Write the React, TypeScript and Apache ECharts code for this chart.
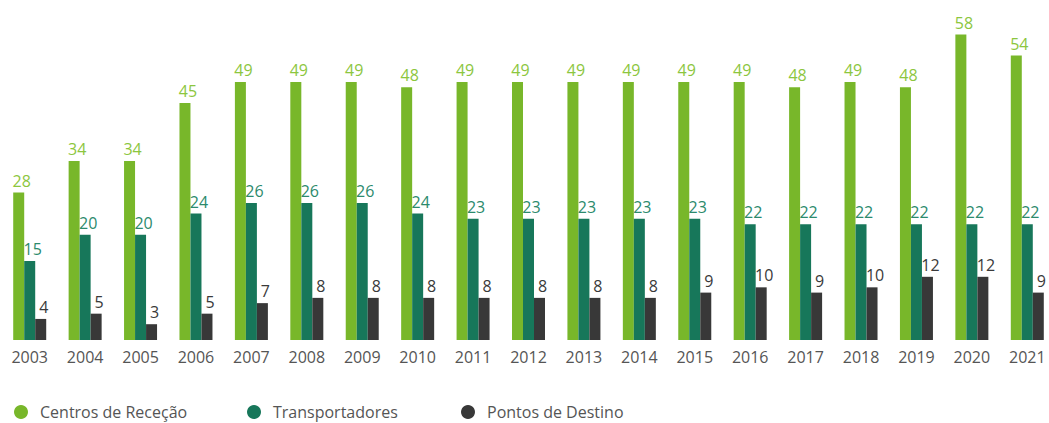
import React, { useEffect, useRef } from "react";
import * as echarts from "echarts";

const years = ["2003","2004","2005","2006","2007","2008","2009","2010","2011","2012","2013","2014","2015","2016","2017","2018","2019","2020","2021"];
const centros = [28,34,34,45,49,49,49,48,49,49,49,49,49,49,48,49,48,58,54];
const transportadores = [15,20,20,24,26,26,26,24,23,23,23,23,23,22,22,22,22,22,22];
const pontos = [4,5,3,5,7,8,8,8,8,8,8,8,9,10,9,10,12,12,9];
const seriesNames = ["Centros de Receção", "Transportadores", "Pontos de Destino"];

const FONT = "'Open Sans', sans-serif";

export default function App() {
  const ref = useRef<HTMLDivElement>(null);
  useEffect(() => {
    document.body.style.margin = "0";
    document.body.style.overflow = "hidden";
    const chart = echarts.init(ref.current!, null, { renderer: "svg" });
    const mk = (name: string, data: number[], color: string, labelColor: string) => ({
      name,
      type: "bar",
      data,
      barWidth: 11,
      barGap: "0%",
      itemStyle: { color },
      label: {
        show: true,
        position: "top",
        offset: [3, 0],
        distance: 4,
        color: labelColor,
        fontFamily: FONT,
        fontSize: 16,
      },
    });
    const legendLefts = [9, 242, 456];
    chart.setOption({
      animation: false,
      grid: { left: 2, right: 0, top: 24, bottom: 83 },
      legend: seriesNames.map((n, i) => ({
        left: legendLefts[i],
        top: 399,
        icon: "circle",
        itemWidth: 28,
        itemHeight: 14,
        textStyle: { color: "#555", fontFamily: FONT, fontSize: 16 },
        data: [n],
      })),
      xAxis: {
        type: "category",
        data: years,
        axisLine: { show: false },
        axisTick: { show: false },
        axisLabel: { color: "#555", fontFamily: FONT, fontSize: 16, margin: 9 },
      },
      yAxis: {
        type: "value",
        min: 0,
        max: 60,
        show: false,
        splitLine: { show: false },
      },
      series: [
        mk(seriesNames[0], centros, "#78b72a", "#8cc63e"),
        mk(seriesNames[1], transportadores, "#17775a", "#2c8a6c"),
        mk(seriesNames[2], pontos, "#383838", "#3a3a3a"),
      ],
    });
    return () => chart.dispose();
  }, []);
  return <div ref={ref} style={{ width: 1055, height: 423 }} />;
}
